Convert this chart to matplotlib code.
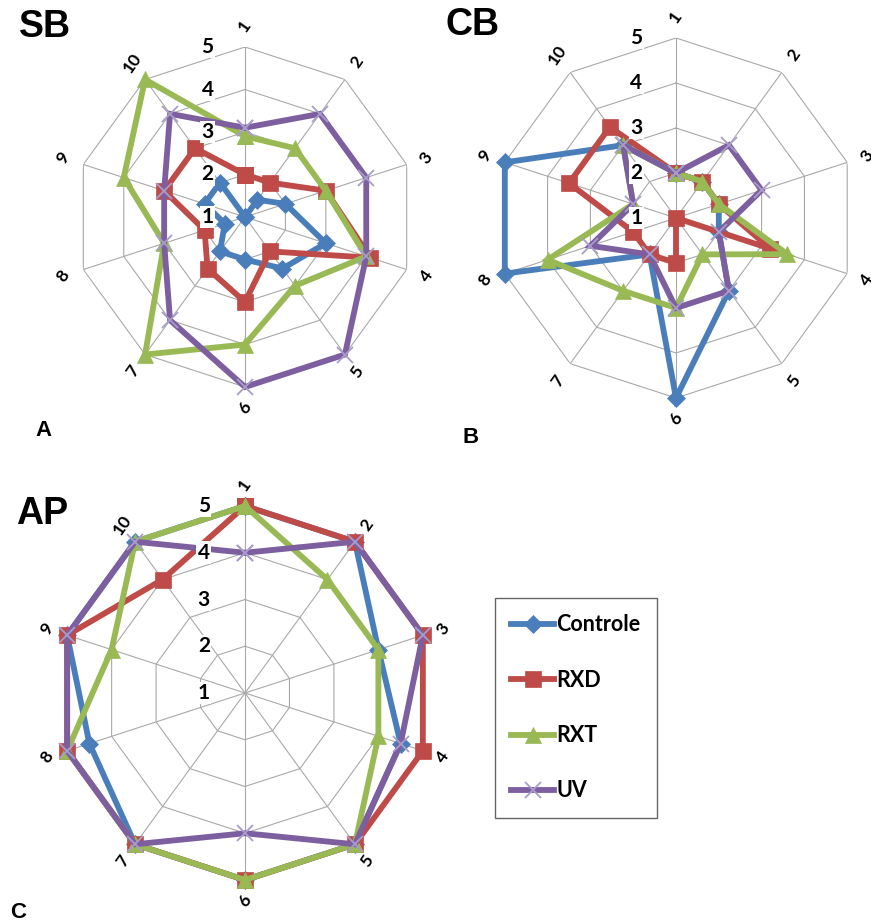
import numpy as np
import matplotlib
matplotlib.use('Agg')
import matplotlib.pyplot as plt

# ---------------- data ----------------
categories = ['1', '2', '3', '4', '5', '6', '7', '8', '9', '10']
radial_ticks = [1, 2, 3, 4, 5]
series_names = ['Controle', 'RXD', 'RXT', 'UV']

sb_controle = [1, 1.5, 2, 3, 2.5, 2, 2, 1.5, 2, 2]
sb_rxd = [2, 2, 3, 4.1, 2, 3, 2.5, 2, 3, 3]
sb_rxt = [2.9, 3, 3, 4, 3, 4, 5, 3, 4, 5]
sb_uv = [3.1, 4, 4, 4, 5, 5, 4, 3, 3, 4]

cb_controle = [2, 2, 2, 2, 3, 5, 2, 5, 5, 3]
cb_rxd = [2, 2, 2, 3.2, 1, 2, 2, 2, 3.5, 3.5]
cb_rxt = [2, 2, 2, 3.6, 2, 3, 3, 4, 2, 3]
cb_uv = [2, 3, 3, 2, 3, 3, 2, 3, 2, 3]

ap_controle = [5, 5, 4, 4.5, 5, 5, 5, 4.5, 5, 5]
ap_rxd = [5, 5, 5, 5, 5, 5, 5, 5, 5, 4]
ap_rxt = [5, 4, 4, 4, 5, 5, 5, 5, 4, 5]
ap_uv = [4, 5, 5, 4.5, 5, 4, 5, 5, 5, 5]

# ---------------- style ----------------
W, H = 871, 924
colors = ['#4A7EBB', '#BE4B48', '#98B954', '#7D5FA0']
markers = ['D', 's', '^', 'x']
msizes = [9, 12, 12, 11]
mec = ['#4A7EBB', '#BE4B48', '#98B954', '#A89CCB']
NUM_FONT = ['Lato', 'DejaVu Sans']
TITLE_FONT = ['Liberation Sans', 'DejaVu Sans']

fig = plt.figure(figsize=(W / 100, H / 100), dpi=100)

theta = np.deg2rad(np.arange(len(categories)) * 36.0)
theta_c = np.append(theta, theta[0])


def radar(cx, cy, R, data):
    ax = fig.add_axes([(cx - R) / W, 1 - (cy + R) / H, 2 * R / W, 2 * R / H],
                      projection='polar')
    ax.set_theta_zero_location('N')
    ax.set_theta_direction(-1)
    ax.set_ylim(radial_ticks[0], radial_ticks[-1])
    ax.set_xticks([])
    ax.set_yticks([])
    ax.grid(False)
    ax.spines['polar'].set_visible(False)
    ax.patch.set_alpha(0)
    # decagonal grid
    for lvl in radial_ticks[1:]:
        ax.plot(theta_c, [lvl] * len(theta_c), color='#A9A9A9', lw=0.8, zorder=1)
    for th in theta:
        ax.plot([th, th], [radial_ticks[0], radial_ticks[-1]], color='#A9A9A9',
                lw=0.8, zorder=1)
    lines = []
    for i, vals in enumerate(data):
        v = np.append(vals, vals[0])
        ln, = ax.plot(theta_c, v, color=colors[i], lw=4.2, marker=markers[i],
                      ms=msizes[i], mfc=colors[i], mec=mec[i],
                      mew=1.3 if markers[i] == 'x' else 0.5,
                      clip_on=False, zorder=3 + i, solid_joinstyle='miter')
        lines.append(ln)
    # category labels
    rlab = 1 + 4 * (R + 21) / R
    for th, c in zip(theta, categories):
        ax.text(th, rlab, c, rotation=55, ha='center', va='center',
                fontsize=12.5, fontweight='bold', family=NUM_FONT, clip_on=False)
    # radial tick labels
    for t in radial_ticks:
        ax.annotate(str(t), xy=(0, t), xytext=(-0.22 * R, 0),
                    textcoords='offset pixels', ha='center', va='center',
                    fontsize=15, fontweight='bold', family=NUM_FONT,
                    bbox=dict(facecolor='white', edgecolor='none', pad=1.0),
                    zorder=10, annotation_clip=False)
    return lines


radar(245, 217, 170, [sb_controle, sb_rxd, sb_rxt, sb_uv])
radar(676, 218, 180, [cb_controle, cb_rxd, cb_rxt, cb_uv])
lines = radar(245, 693, 187, [ap_controle, ap_rxd, ap_rxt, ap_uv])

# panel titles and letters
for txt, x, y in [('SB', 45, 27), ('CB', 473, 25), ('AP', 42, 514)]:
    fig.text(x / W, 1 - y / H, txt, ha='center', va='center', fontsize=27,
             fontweight='bold', family=TITLE_FONT)
for txt, x, y in [('A', 43, 431), ('B', 471, 437), ('C', 18, 913)]:
    fig.text(x / W, 1 - y / H, txt, ha='center', va='center', fontsize=16,
             fontweight='bold', family=TITLE_FONT)

leg = fig.legend(lines, series_names, loc='upper left',
                 bbox_to_anchor=(495 / W, 1 - 598 / H), borderaxespad=0,
                 fancybox=False, frameon=True, edgecolor='#404040',
                 prop=dict(family=NUM_FONT, weight='bold', size=15.5),
                 labelspacing=1.6, handlelength=2.0, handletextpad=0.1,
                 borderpad=0.75)
leg.get_frame().set_linewidth(1.0)

fig.savefig('out.png', dpi=100, facecolor='white')
